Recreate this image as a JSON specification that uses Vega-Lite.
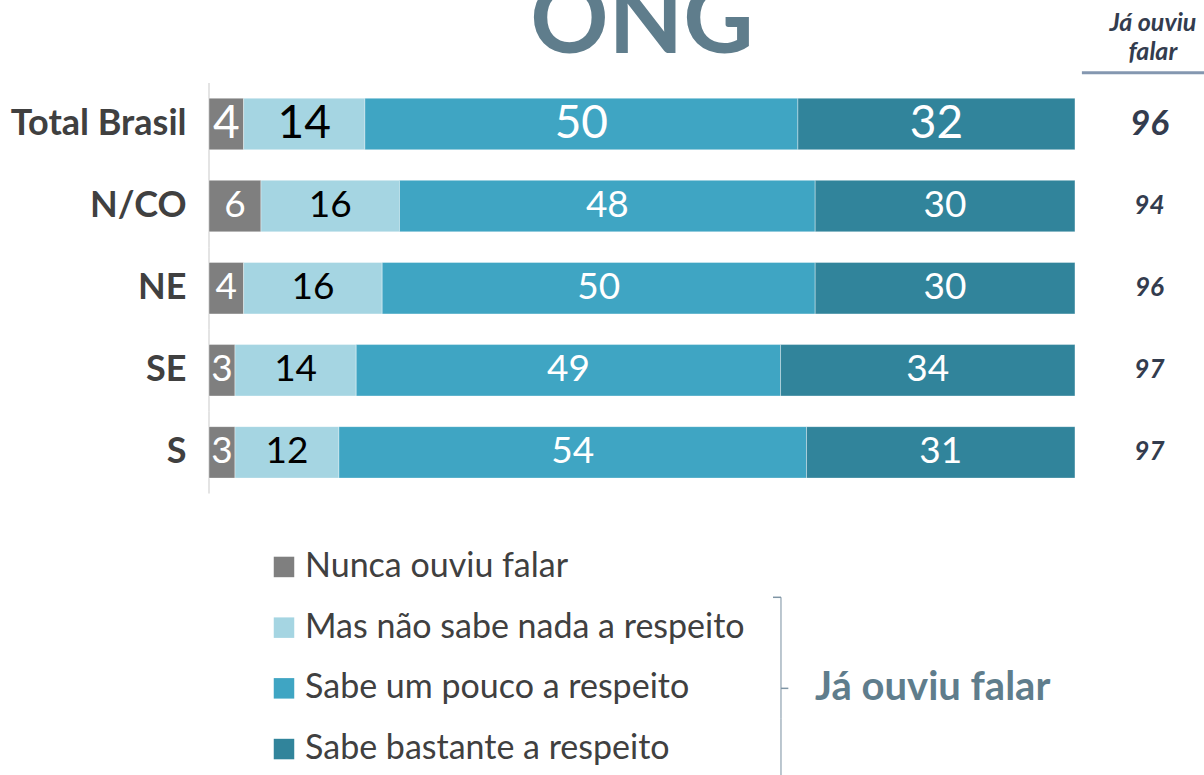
{
  "$schema": "https://vega.github.io/schema/vega-lite/v6.json",
  "width": 995,
  "height": 775,
  "autosize": {"type": "none"},
  "padding": {"left": 209, "top": 0, "right": 0, "bottom": 0},
  "background": "white",
  "config": {"view": {"stroke": null}, "font": "Lato"},
  "datasets": {
    "seg": [
      {"region": "Total Brasil", "cat": "Nunca ouviu falar", "ord": 1, "value": 4},
      {"region": "Total Brasil", "cat": "Mas não sabe nada a respeito", "ord": 2, "value": 14},
      {"region": "Total Brasil", "cat": "Sabe um pouco a respeito", "ord": 3, "value": 50},
      {"region": "Total Brasil", "cat": "Sabe bastante a respeito", "ord": 4, "value": 32},
      {"region": "N/CO", "cat": "Nunca ouviu falar", "ord": 1, "value": 6},
      {"region": "N/CO", "cat": "Mas não sabe nada a respeito", "ord": 2, "value": 16},
      {"region": "N/CO", "cat": "Sabe um pouco a respeito", "ord": 3, "value": 48},
      {"region": "N/CO", "cat": "Sabe bastante a respeito", "ord": 4, "value": 30},
      {"region": "NE", "cat": "Nunca ouviu falar", "ord": 1, "value": 4},
      {"region": "NE", "cat": "Mas não sabe nada a respeito", "ord": 2, "value": 16},
      {"region": "NE", "cat": "Sabe um pouco a respeito", "ord": 3, "value": 50},
      {"region": "NE", "cat": "Sabe bastante a respeito", "ord": 4, "value": 30},
      {"region": "SE", "cat": "Nunca ouviu falar", "ord": 1, "value": 3},
      {"region": "SE", "cat": "Mas não sabe nada a respeito", "ord": 2, "value": 14},
      {"region": "SE", "cat": "Sabe um pouco a respeito", "ord": 3, "value": 49},
      {"region": "SE", "cat": "Sabe bastante a respeito", "ord": 4, "value": 34},
      {"region": "S", "cat": "Nunca ouviu falar", "ord": 1, "value": 3},
      {"region": "S", "cat": "Mas não sabe nada a respeito", "ord": 2, "value": 12},
      {"region": "S", "cat": "Sabe um pouco a respeito", "ord": 3, "value": 54},
      {"region": "S", "cat": "Sabe bastante a respeito", "ord": 4, "value": 31}
    ],
    "totals": [
      {"region": "Total Brasil", "total": 96},
      {"region": "N/CO", "total": 94},
      {"region": "NE", "total": 96},
      {"region": "SE", "total": 97},
      {"region": "S", "total": 97}
    ],
    "leg": [
      {"cat": "Nunca ouviu falar"},
      {"cat": "Mas não sabe nada a respeito"},
      {"cat": "Sabe um pouco a respeito"},
      {"cat": "Sabe bastante a respeito"}
    ],
    "one": [{}]
  },
  "layer": [
    {
      "encoding": {
        "y": {
          "field": "region",
          "type": "nominal",
          "scale": {
            "domain": ["ONG", "Total Brasil", "N/CO", "NE", "SE", "S", "_1", "_2", "_3"],
            "paddingInner": 0.373,
            "paddingOuter": 0.4065,
            "align": 0.242
          },
          "axis": {
            "values": ["Total Brasil", "N/CO", "NE", "SE", "S"],
            "title": null,
            "domain": false,
            "ticks": false,
            "grid": false,
            "labelFont": "Lato",
            "labelFontSize": 36,
            "labelFontWeight": "bold",
            "labelColor": "#404040",
            "labelPadding": 23
          }
        }
      },
      "layer": [
        {
          "data": {"name": "totals"},
          "mark": {"type": "tick", "orient": "vertical", "size": 82.1, "thickness": 2, "color": "#d9d9d9"},
          "encoding": {
            "x": {"datum": 0, "type": "quantitative", "scale": {"domain": [0, 114.9], "nice": false, "zero": false}, "axis": null}
          }
        },
        {
          "data": {"name": "seg"},
          "transform": [
            {"stack": "value", "groupby": ["region"], "sort": [{"field": "ord", "order": "ascending"}], "as": ["x0", "x1"]}
          ],
          "mark": {"type": "bar", "stroke": "#ffffff", "strokeWidth": 0.6, "strokeOpacity": 0.6},
          "encoding": {
            "x": {"field": "x0", "type": "quantitative", "axis": null},
            "x2": {"field": "x1"},
            "color": {
              "field": "cat",
              "type": "nominal",
              "scale": {
                "domain": ["Nunca ouviu falar", "Mas não sabe nada a respeito", "Sabe um pouco a respeito", "Sabe bastante a respeito"],
                "range": ["#7f7f7f", "#a5d5e2", "#3fa5c3", "#31849b"]
              },
              "legend": null
            }
          }
        },
        {
          "data": {"name": "seg"},
          "transform": [
            {"stack": "value", "groupby": ["region"], "sort": [{"field": "ord", "order": "ascending"}], "as": ["x0", "x1"]},
            {"calculate": "(datum.x0 + datum.x1) / 2", "as": "xmid"}
          ],
          "mark": {"type": "text", "font": "Lato", "baseline": "middle", "align": "center"},
          "encoding": {
            "x": {"field": "xmid", "type": "quantitative", "axis": null},
            "text": {"field": "value", "type": "quantitative"},
            "size": {"condition": {"test": "datum.region === 'Total Brasil'", "value": 46}, "value": 37},
            "color": {"condition": {"test": "datum.cat === 'Mas não sabe nada a respeito'", "value": "#000000"}, "value": "#ffffff"}
          }
        },
        {
          "data": {"name": "totals"},
          "mark": {"type": "text", "font": "Lato", "fontWeight": "bold", "fontStyle": "italic", "color": "#333c4e", "baseline": "middle", "align": "center"},
          "encoding": {
            "x": {"datum": 108.6, "type": "quantitative", "axis": null},
            "text": {"field": "total", "type": "quantitative"},
            "size": {"condition": {"test": "datum.region === 'Total Brasil'", "value": 35}, "value": 26}
          }
        },
        {
          "data": {"name": "one"},
          "mark": {"type": "text", "font": "Lato", "fontWeight": "bold", "fontStyle": "italic", "color": "#333c4e", "baseline": "middle", "align": "center", "fontSize": 25, "lineHeight": 29, "dy": -19},
          "encoding": {
            "x": {"datum": 109.0, "type": "quantitative", "axis": null},
            "y": {"datum": "ONG", "type": "nominal"},
            "text": {"value": ["Já ouviu", "falar"]}
          }
        },
        {
          "data": {"name": "one"},
          "mark": {"type": "rule", "color": "#8497b0", "strokeWidth": 3},
          "encoding": {
            "x": {"datum": 100.8, "type": "quantitative", "axis": null},
            "x2": {"datum": 114.9},
            "y": {"datum": "ONG", "type": "nominal", "bandPosition": 1.1}
          }
        },
        {
          "data": {"name": "one"},
          "mark": {"type": "text", "font": "Lato", "fontWeight": "bold", "fontSize": 97, "color": "#5f7d8c", "baseline": "alphabetic", "align": "center", "dy": 11},
          "encoding": {
            "x": {"datum": 50, "type": "quantitative", "axis": null},
            "y": {"datum": "ONG", "type": "nominal"},
            "text": {"value": "ONG"}
          }
        }
      ]
    },
    {
      "data": {"name": "leg"},
      "encoding": {
        "y": {
          "field": "cat",
          "type": "nominal",
          "scale": {
            "domain": ["_1", "_2", "_3", "_4", "_5", "_6", "_7", "_8", "Nunca ouviu falar", "Mas não sabe nada a respeito", "Sabe um pouco a respeito", "Sabe bastante a respeito"],
            "paddingInner": 0.5,
            "paddingOuter": 0.634,
            "align": 0.86
          },
          "axis": null
        }
      },
      "layer": [
        {
          "mark": {"type": "point", "shape": "square", "filled": true, "size": 420, "opacity": 1},
          "encoding": {
            "x": {"datum": 8.66, "type": "quantitative", "axis": null},
            "color": {"field": "cat", "type": "nominal", "legend": null}
          }
        },
        {
          "mark": {"type": "text", "font": "Lato", "fontSize": 34, "color": "#404040", "align": "left", "baseline": "middle"},
          "encoding": {
            "x": {"datum": 11.09, "type": "quantitative", "axis": null},
            "text": {"field": "cat"}
          }
        },
        {
          "transform": [{"filter": "datum.cat !== 'Nunca ouviu falar'"}],
          "mark": {"type": "tick", "orient": "vertical", "size": 60.7, "thickness": 1.5, "color": "#7f95a5"},
          "encoding": {
            "x": {"datum": 66.05, "type": "quantitative", "axis": null}
          }
        },
        {
          "data": {"name": "one"},
          "mark": {"type": "rule", "color": "#7f95a5", "strokeWidth": 1.5},
          "encoding": {
            "x": {"datum": 65.13, "type": "quantitative", "axis": null},
            "x2": {"datum": 66.05},
            "y": {"datum": "Mas não sabe nada a respeito", "type": "nominal", "bandPosition": -0.5}
          }
        },
        {
          "data": {"name": "one"},
          "mark": {"type": "rule", "color": "#7f95a5", "strokeWidth": 1.5},
          "encoding": {
            "x": {"datum": 66.05, "type": "quantitative", "axis": null},
            "x2": {"datum": 66.9},
            "y": {"datum": "Sabe um pouco a respeito", "type": "nominal"}
          }
        },
        {
          "data": {"name": "one"},
          "mark": {"type": "text", "font": "Lato", "fontWeight": "bold", "fontSize": 40, "color": "#5f7d8c", "align": "left", "baseline": "middle"},
          "encoding": {
            "x": {"datum": 69.98, "type": "quantitative", "axis": null},
            "y": {"datum": "Sabe um pouco a respeito", "type": "nominal"},
            "text": {"value": "Já ouviu falar"}
          }
        }
      ]
    }
  ],
  "resolve": {"scale": {"y": "independent"}}
}
